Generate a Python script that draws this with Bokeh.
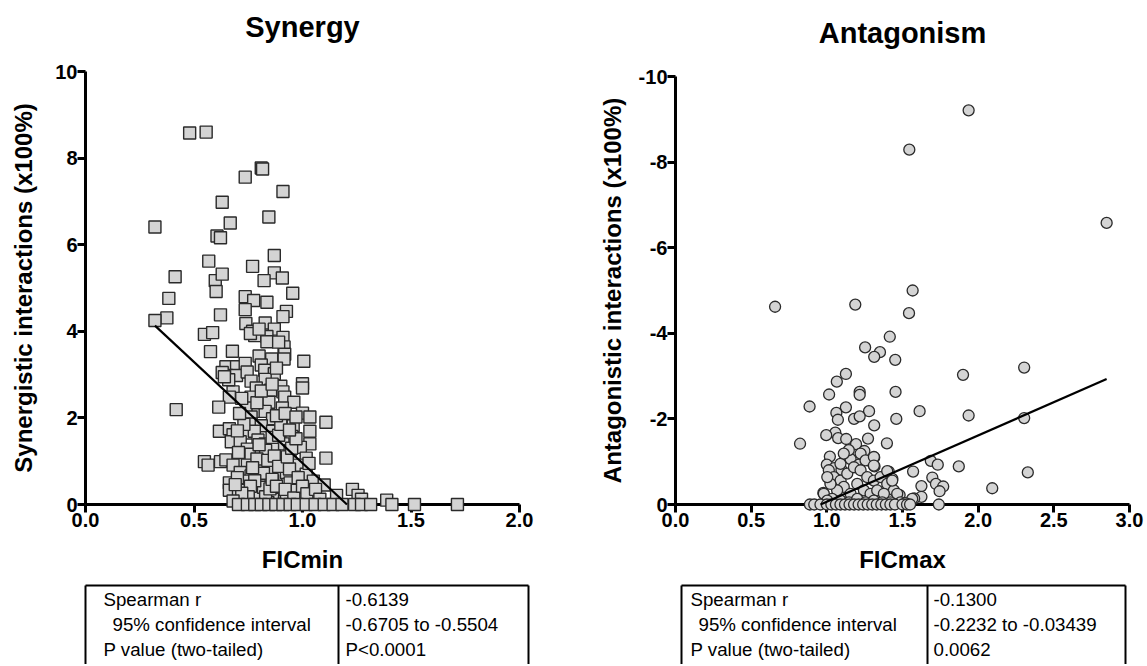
from bokeh.plotting import figure
from bokeh.models import Range1d, FixedTicker, NumeralTickFormatter
from bokeh.layouts import row, column
from bokeh.embed import file_html
from bokeh.resources import INLINE
from bokeh.core.properties import value

FONT = "Liberation Sans"

# ---------------- data: Synergy (FICmin vs synergistic interactions) ----------------
syn_pts = [
    (0.48, 8.58), (0.556, 8.60), (0.32, 6.41), (0.736, 7.56), (0.81, 7.77), (0.816, 7.75),
    (0.91, 7.23), (0.63, 6.98), (0.667, 6.50), (0.845, 6.64), (0.606, 6.20), (0.622, 6.16),
    (0.568, 5.62), (0.77, 5.50), (0.87, 5.75), (0.87, 5.35), (0.907, 5.23), (0.823, 5.17),
    (0.413, 5.26), (0.598, 5.17), (0.63, 5.32), (0.602, 4.92), (0.955, 4.88), (0.384, 4.76),
    (0.736, 4.80), (0.775, 4.71), (0.836, 4.67), (0.736, 4.50), (0.926, 4.46), (0.91, 4.34),
    (0.622, 4.38), (0.375, 4.31), (0.32, 4.25), (0.739, 4.18), (0.828, 4.19), (0.77, 4.00),
    (0.78, 3.90), (0.87, 4.05), (0.836, 3.88), (0.836, 3.76), (0.91, 3.86), (0.548, 3.93),
    (0.586, 3.97), (0.576, 3.53), (0.677, 3.54), (0.915, 3.64), (0.918, 3.47), (0.915, 3.36),
    (0.80, 3.43), (0.858, 3.36), (1.006, 3.31), (0.647, 3.18), (0.696, 3.18), (0.736, 3.26),
    (0.81, 3.22), (0.826, 3.10), (0.65, 2.98), (0.696, 2.98), (0.745, 3.06), (0.87, 3.02),
    (0.763, 2.85), (0.828, 2.89), (1.0, 2.79), (1.0, 2.69), (0.787, 2.69), (0.90, 2.73),
    (0.91, 2.60), (0.68, 2.60), (0.853, 2.64), (0.918, 2.48), (0.663, 2.48), (0.763, 2.48),
    (0.845, 2.36), (0.96, 2.36), (0.742, 2.23), (0.614, 2.25), (0.418, 2.19), (0.907, 2.23),
    (0.795, 2.15), (0.828, 2.15), (1.0, 2.11), (1.034, 2.02), (0.763, 2.02), (0.862, 1.98),
    (0.926, 1.94), (1.108, 1.90), (0.763, 1.86), (0.81, 1.82), (0.957, 1.82), (0.617, 1.69),
    (0.663, 1.75), (0.68, 1.61), (0.746, 1.65), (0.778, 1.69), (0.862, 1.69), (1.034, 1.69),
    (0.951, 1.57), (0.672, 1.45), (0.713, 1.45), (0.795, 1.49), (0.828, 1.40), (1.034, 1.40),
    (0.91, 1.40), (0.746, 1.28), (0.862, 1.28), (0.943, 1.24), (0.99, 1.32), (0.705, 1.20),
    (0.763, 1.16), (0.81, 1.16), (1.017, 1.07), (1.108, 1.07), (0.548, 0.99), (0.565, 0.91),
    (0.622, 0.99), (0.647, 1.03), (0.68, 0.91), (0.746, 0.91), (0.795, 0.95), (0.845, 0.91),
    (0.91, 0.95), (0.976, 0.91), (0.713, 0.74), (0.763, 0.66), (0.828, 0.74), (0.877, 0.66),
    (0.926, 0.74), (1.017, 0.70), (0.663, 0.50), (0.663, 0.33), (0.729, 0.54), (0.795, 0.50),
    (0.862, 0.54), (0.943, 0.50), (1.05, 0.54), (1.10, 0.45), (0.705, 0.33), (0.763, 0.29),
    (0.836, 0.33), (0.91, 0.25), (0.976, 0.33), (1.042, 0.21), (1.23, 0.35), (1.157, 0.21),
    (1.256, 0.21), (0.73, 0.12), (0.795, 0.12), (0.862, 0.12), (0.926, 0.12), (0.99, 0.12),
    (1.272, 0.12), (1.388, 0.10),
    (0.79, 0.22), (0.80, 0.62), (0.81, 0.95), (0.82, 0.40), (0.83, 1.25), (0.84, 0.05),
    (0.85, 0.82), (0.86, 1.55), (0.79, 1.05), (0.80, 1.38), (0.82, 0.72), (0.83, 0.18),
    (0.84, 1.02), (0.85, 0.36), (0.86, 0.58), (0.87, 1.12), (0.88, 0.42), (0.89, 0.88),
    (0.78, 0.55), (0.77, 0.85), (0.76, 0.42), (0.75, 0.18), (0.72, 0.26), (0.70, 0.62),
    (0.69, 0.46), (0.68, 0.08), (0.92, 0.35), (0.94, 0.82), (0.96, 0.15), (0.98, 0.62),
    (1.0, 0.42), (1.02, 0.25), (1.03, 0.95), (1.06, 0.35), (1.08, 0.12), (0.93, 1.10),
    (0.95, 1.30), (0.97, 1.52), (0.89, 1.60), (0.90, 1.85), (0.88, 2.05), (0.92, 2.10),
    (0.94, 1.72), (0.97, 2.02), (0.73, 1.85), (0.71, 2.10), (0.70, 1.70), (0.72, 2.45),
    (0.66, 2.88), (0.63, 3.05), (0.64, 2.95), (0.79, 2.35), (0.81, 2.62), (0.86, 2.78),
    (0.88, 3.15), (0.89, 3.75), (0.76, 3.95), (0.80, 4.05),
]
syn_zero_x = [0.705, 0.746, 0.78, 0.81, 0.845, 0.877, 0.91, 0.943, 0.976, 1.017, 1.058,
              1.10, 1.141, 1.182, 1.24, 1.272, 1.314, 1.412, 1.516, 1.714]
syn_x = [p[0] for p in syn_pts] + syn_zero_x
syn_y = [p[1] for p in syn_pts] + [0.0] * len(syn_zero_x)
syn_fit_x = [0.32, 1.205]
syn_fit_y = [4.13, 0.0]

# ---------------- data: Antagonism (FICmax vs antagonistic interactions) ----------------
ant_pts = [
    (1.937, -9.21), (1.545, -8.29), (2.849, -6.58), (0.658, -4.62), (1.188, -4.67),
    (1.567, -5.00), (1.543, -4.47), (1.416, -3.92), (1.253, -3.67), (1.351, -3.56),
    (1.313, -3.45), (1.452, -3.38), (2.304, -3.20), (1.90, -3.03), (1.126, -3.05),
    (1.066, -2.87), (1.015, -2.57), (1.217, -2.63), (1.217, -2.56), (1.454, -2.63),
    (0.886, -2.29), (1.126, -2.27), (1.063, -2.14), (1.279, -2.18), (1.613, -2.18),
    (1.073, -1.98), (1.18, -2.00), (1.217, -2.06), (1.459, -2.00), (1.937, -2.08),
    (2.304, -2.02), (1.313, -1.85), (1.056, -1.68), (0.996, -1.62), (1.075, -1.55),
    (1.128, -1.53), (1.272, -1.54), (1.397, -1.43), (0.823, -1.42), (1.193, -1.41),
    (1.133, -1.18), (1.157, -1.06), (1.248, -1.25), (1.02, -1.12), (1.145, -1.27),
    (1.687, -1.02), (1.733, -0.93), (1.872, -0.89), (1.313, -1.10), (1.284, -1.02),
    (1.212, -0.93), (1.0, -0.93), (1.049, -0.85), (1.097, -0.81), (1.315, -0.89),
    (1.409, -0.77), (1.57, -0.77), (2.328, -0.75), (1.433, -0.60), (1.697, -0.63),
    (1.625, -0.43), (1.721, -0.48), (1.769, -0.42), (1.745, -0.31), (2.093, -0.38),
    (1.625, -0.18), (1.577, -0.14), (1.481, -0.22), (1.74, 0.0), (0.977, -0.27),
    (1.025, -0.52),
    (1.013, -0.80), (1.046, -0.64), (1.091, -0.56), (1.135, -0.72), (1.179, -0.87),
    (1.223, -0.80), (1.267, -0.64), (1.311, -0.56), (1.355, -0.64), (1.399, -0.48),
    (1.443, -0.33), (1.465, -0.25), (1.112, -0.41), (1.157, -0.25), (1.201, -0.48),
    (1.245, -0.33), (1.289, -0.25), (1.333, -0.33), (1.377, -0.25), (1.068, -0.33),
    (1.024, -0.48), (0.98, -0.25), (1.035, -0.13), (1.091, -0.09), (1.146, -0.05),
    (1.201, -0.13), (1.256, -0.05), (1.311, -0.09), (1.366, -0.05), (1.421, -0.05),
    (1.003, -0.09), (1.223, -1.19), (1.256, -1.03), (1.311, -1.11), (1.311, -0.91),
    (1.09, -0.95), (1.112, -1.19), (1.003, -0.64), (1.399, -0.78), (1.432, -0.56),
    (1.564, -0.13), (1.487, -0.05), (1.52, -0.03),
]
ant_zero_x = [0.888, 0.917, 0.958, 1.0, 1.03, 1.06, 1.09, 1.12, 1.15, 1.18, 1.21, 1.24,
              1.27, 1.30, 1.33, 1.36, 1.39, 1.42, 1.45, 1.50, 1.53, 1.55]
ant_x = [p[0] for p in ant_pts] + ant_zero_x
ant_y = [p[1] for p in ant_pts] + [0.0] * len(ant_zero_x)
ant_fit_x = [0.958, 2.849]
ant_fit_y = [0.0, -2.93]

# ---------------- texts ----------------
titles = ["Synergy", "Antagonism"]
stat_labels = ["Spearman r", "95% confidence interval", "P value (two-tailed)"]
syn_stats = ["-0.6139", "-0.6705 to -0.5504", "P<0.0001"]
ant_stats = ["-0.1300", "-0.2232 to -0.03439", "0.0062"]

syn_xticks = [0.0, 0.5, 1.0, 1.5, 2.0]
syn_yticks = [0, 2, 4, 6, 8, 10]
ant_xticks = [0.0, 0.5, 1.0, 1.5, 2.0, 2.5, 3.0]
ant_yticks = [0, -2, -4, -6, -8, -10]

FILL = "#d4d4d4"
EDGE = "#2a2a2a"

# layout geometry (page pixels)
W1, W2 = 585, 560
H_PLOT, H_TAB = 578, 86
L1_BORDER, R1_BORDER = 85, W1 - 519
L2_BORDER, R2_BORDER = 90, W2 - (1129 - W1)
TOP1, TOP2 = 71, 76


def style_axes(p, ylabel_standoff):
    for ax in (p.xaxis[0], p.yaxis[0]):
        ax.axis_line_width = 3
        ax.axis_line_color = "black"
        ax.major_tick_line_width = 3
        ax.major_tick_line_color = "black"
        ax.major_tick_out = 8
        ax.major_tick_in = 0
        ax.minor_tick_out = 0
        ax.minor_tick_in = 0
        ax.major_label_text_font = FONT
        ax.major_label_text_font_size = "20px"
        ax.major_label_text_font_style = "bold"
        ax.major_label_text_color = "black"
        ax.major_label_standoff = 0
        ax.axis_label_text_font = FONT
        ax.axis_label_text_font_size = "24px"
        ax.axis_label_text_font_style = "bold"
        ax.axis_label_text_color = "black"
    p.xaxis[0].axis_label_standoff = 16
    p.yaxis[0].axis_label_standoff = ylabel_standoff
    p.xgrid.visible = False
    p.ygrid.visible = False
    p.outline_line_color = None


def add_title(p, text, x, y):
    g = p.text(x=[x], y=[y], text=[text], text_align="center", text_baseline="alphabetic",
               text_font=value(FONT), text_font_size="29px", text_font_style="bold",
               text_color="black")
    g.level = "overlay"


# ---------------- Synergy panel ----------------
p1 = figure(width=W1, height=H_PLOT, x_range=Range1d(0, 2), y_range=Range1d(0, 10),
            output_backend="svg", toolbar_location=None,
            min_border_left=L1_BORDER, min_border_right=R1_BORDER,
            min_border_top=TOP1, min_border_bottom=H_PLOT - 504,
            x_axis_label="FICmin", y_axis_label="Synergistic interactions (x100%)")
p1.xaxis.ticker = FixedTicker(ticks=syn_xticks)
p1.xaxis.formatter = NumeralTickFormatter(format="0.0")
p1.yaxis.ticker = FixedTicker(ticks=syn_yticks)
p1.yaxis.formatter = NumeralTickFormatter(format="0")
style_axes(p1, 15)
r = p1.scatter(syn_x, syn_y, marker="square", size=12, fill_color=FILL,
               line_color=EDGE, line_width=1.4)
r.level = "overlay"
l = p1.line(syn_fit_x, syn_fit_y, line_color="black", line_width=2.2)
l.level = "overlay"
# title placed ~45 px above the frame (10 units = 433 px)
add_title(p1, titles[0], 1.0, 10 + 45 * 10 / 433)

# ---------------- Antagonism panel ----------------
p2 = figure(width=W2, height=H_PLOT, x_range=Range1d(0, 3), y_range=Range1d(0, -10),
            output_backend="svg", toolbar_location=None,
            min_border_left=L2_BORDER, min_border_right=R2_BORDER,
            min_border_top=TOP2, min_border_bottom=H_PLOT - 504,
            x_axis_label="FICmax", y_axis_label="Antagonistic interactions (x100%)")
p2.xaxis.ticker = FixedTicker(ticks=ant_xticks)
p2.xaxis.formatter = NumeralTickFormatter(format="0.0")
p2.yaxis.ticker = FixedTicker(ticks=ant_yticks)
p2.yaxis.formatter = NumeralTickFormatter(format="0")
style_axes(p2, 10)
r = p2.scatter(ant_x, ant_y, marker="circle", size=11, fill_color=FILL,
               line_color=EDGE, line_width=1.3)
r.level = "overlay"
l = p2.line(ant_fit_x, ant_fit_y, line_color="black", line_width=2.2)
l.level = "overlay"
add_title(p2, titles[1], 1.5, -10 - 44 * 10 / 428)


# ---------------- tables (coordinates in page pixels) ----------------
def make_table(width, lb, rb, frame_l, frame_r, left, mid, right, lab_x, ind_x, val_x, values):
    t = figure(width=width, height=H_TAB,
               x_range=Range1d(frame_l, frame_r), y_range=Range1d(H_PLOT + H_TAB, H_PLOT),
               output_backend="svg", toolbar_location=None,
               x_axis_location=None, y_axis_location=None,
               min_border_left=lb, min_border_right=rb, min_border_top=0, min_border_bottom=0)
    t.xgrid.visible = False
    t.ygrid.visible = False
    t.outline_line_color = None
    top = 585
    bottom = H_PLOT + H_TAB + 5
    s = t.segment(x0=[left, left, mid, right], y0=[top, top, top, top],
                  x1=[right, left, mid, right], y1=[top, bottom, bottom, bottom],
                  line_color="black", line_width=2)
    s.level = "overlay"
    ys = [599, 624, 649]
    xs = [lab_x, ind_x, lab_x]
    a = t.text(x=xs, y=ys, text=stat_labels, text_font=value(FONT), text_font_size="18.7px",
               text_color="black", text_baseline="middle", text_align="left")
    a.level = "overlay"
    b = t.text(x=[val_x] * 3, y=ys, text=values, text_font=value(FONT), text_font_size="18.7px",
               text_color="black", text_baseline="middle", text_align="left")
    b.level = "overlay"
    return t


t1 = make_table(W1, L1_BORDER, R1_BORDER, 85, 519, 85, 338, 528, 103, 112, 345, syn_stats)
t2 = make_table(W2, L2_BORDER, R2_BORDER, 675, 1129, 681, 927, 1125, 690, 698, 933, ant_stats)

layout = row(column(p1, t1, spacing=0), column(p2, t2, spacing=0), spacing=0)

open("out.html", "w").write(file_html(layout, INLINE))
